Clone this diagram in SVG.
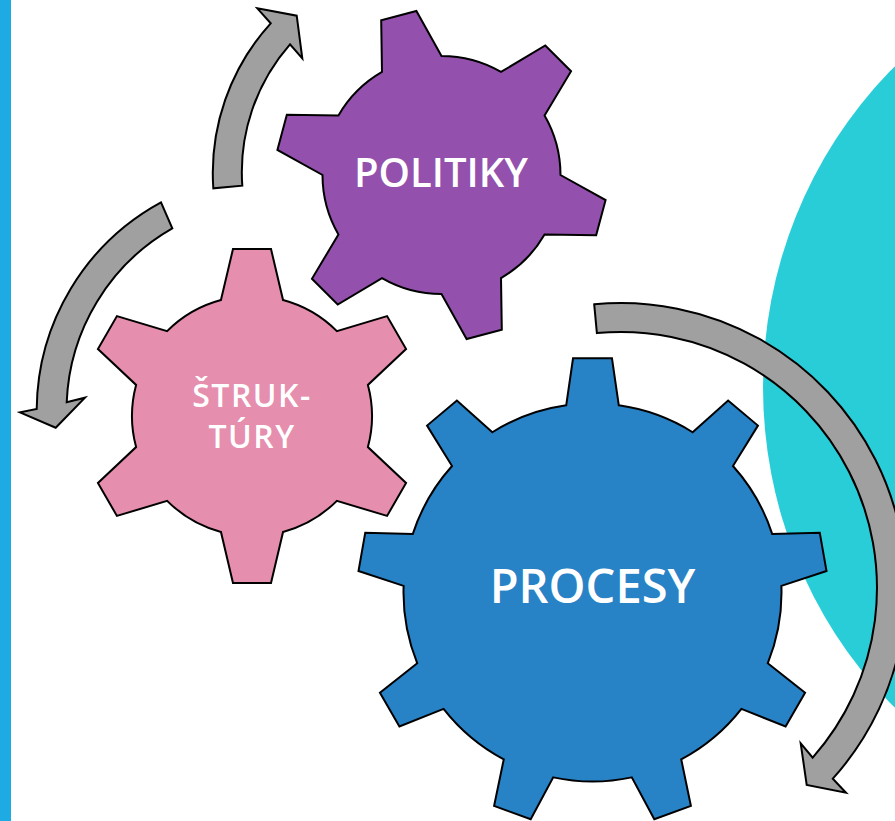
<svg xmlns="http://www.w3.org/2000/svg" width="895" height="821" viewBox="0 0 895 821">
<style>
.gear{stroke:#000;stroke-width:2;stroke-linejoin:miter}
.arrow{fill:#A0A0A0;stroke:#000;stroke-width:2;stroke-linejoin:miter}
.lbl{font-family:"Open Sans","Noto Sans","DejaVu Sans",sans-serif;font-weight:600;fill:#fff;text-anchor:middle}
</style>
<rect x="0" y="0" width="895" height="821" fill="#fff"/>
<rect x="0" y="0" width="11" height="821" fill="#1EAAE2"/>
<ellipse cx="1193" cy="387" rx="430" ry="445" fill="#28CDD7"/>
<g id="connectors">
<path class="arrow" d="M213.3,188.3 A223,223 0 0 1 270.7,23.3 L257.3,8.3 L296.7,15.7 L302.3,58.3 L290,44.3 A194,194 0 0 0 242.3,185.7 Z"/>
<path class="arrow" d="M161,202.3 A238,238 0 0 0 36.7,409 L20,412.3 L55.7,427.7 L85,397.7 L66.7,402.3 A210,210 0 0 1 172.3,228.3 Z"/>
<path class="arrow" d="M594.2,304.3 A285,285 0 0 1 832.8,778.7 L846,792.7 L806.7,785 L800.7,743.3 L812.7,757.6 A256,256 0 0 0 596.9,333.1 Z"/>
</g>
<g id="politiky">
<path class="gear" fill="#9351AD" d="M382.0,71.94 L381.19,20.34 L416.39,10.91 L441.5,56.0 A119,119 0 0 1 501.0,71.94 L545.28,45.45 L571.05,71.22 L544.56,115.5 A119,119 0 0 1 560.5,175 L605.59,200.11 L596.16,235.31 L544.56,234.5 A119,119 0 0 1 501.0,278.06 L501.81,329.66 L466.61,339.09 L441.5,294.0 A119,119 0 0 1 382.0,278.06 L337.72,304.55 L311.95,278.78 L338.44,234.5 A119,119 0 0 1 322.5,175 L277.41,149.89 L286.84,114.69 L338.44,115.5 A119,119 0 0 1 382.0,71.94 Z"/>
<text class="lbl" x="441" y="187" font-size="40">POLITIKY</text>
</g>
<g id="struktury">
<path class="gear" fill="#E58EAE" d="M220.94,300.09 L232.98,249.08 L271.02,249.08 L283.06,300.09 A120,120 0 0 1 336.85,331.15 L387.06,316.07 L406.07,349.02 L367.91,384.94 A120,120 0 0 1 367.91,447.06 L406.07,482.98 L387.06,515.93 L336.85,500.85 A120,120 0 0 1 283.06,531.91 L271.02,582.92 L232.98,582.92 L220.94,531.91 A120,120 0 0 1 167.15,500.85 L116.94,515.93 L97.93,482.98 L136.09,447.06 A120,120 0 0 1 136.09,384.94 L97.93,349.02 L116.94,316.07 L167.15,331.15 A120,120 0 0 1 220.94,300.09 Z"/>
<text class="lbl" x="252" y="407" font-size="32" letter-spacing="1.5">ŠTRUK-</text>
<text class="lbl" x="252" y="448" font-size="32" letter-spacing="1.5">TÚRY</text>
</g>
<g id="procesy">
<path class="gear" fill="#2882C6" d="M566.20,405.34 L573.04,358.31 L611.96,358.31 L618.80,405.34 A189,189 0 0 1 692.65,432.23 L728.12,400.60 L757.94,425.60 L732.95,466.04 A189,189 0 0 1 772.25,534.10 L819.75,532.67 L826.51,571.00 L781.39,585.90 A189,189 0 0 1 767.74,663.30 L805.06,692.75 L785.58,726.45 L741.43,708.87 A189,189 0 0 1 681.24,759.37 L690.89,805.90 L654.31,819.23 L631.79,777.36 A189,189 0 0 1 553.21,777.36 L530.69,819.23 L494.11,805.90 L503.76,759.37 A189,189 0 0 1 443.57,708.87 L399.42,726.45 L379.94,692.75 L417.26,663.30 A189,189 0 0 1 403.61,585.90 L358.49,571.00 L365.25,532.67 L412.75,534.10 A189,189 0 0 1 452.05,466.04 L427.06,425.60 L456.88,400.60 L492.35,432.23 A189,189 0 0 1 566.20,405.34 Z"/>
<text class="lbl" x="592.5" y="603" font-size="47">PROCESY</text>
</g>
</svg>
